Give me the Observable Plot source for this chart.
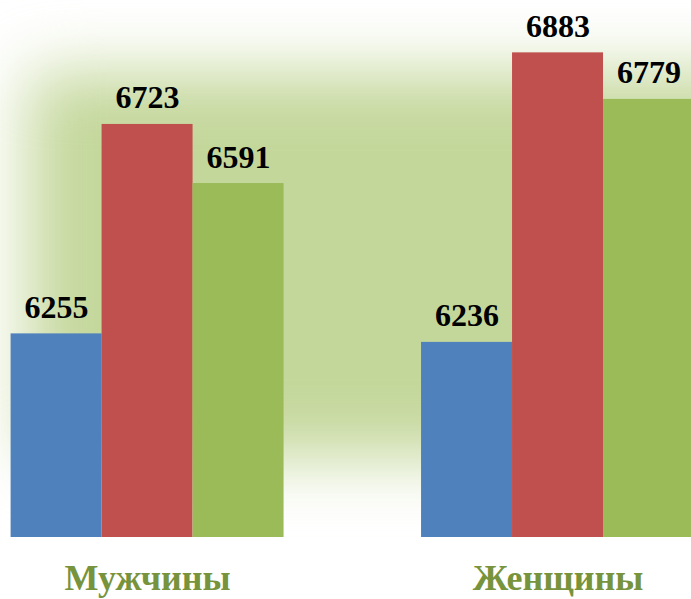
<!DOCTYPE html>
<html>
<head>
<meta charset="utf-8">
<script src="https://cdn.jsdelivr.net/npm/d3@7"></script>
<script src="https://cdn.jsdelivr.net/npm/@observablehq/plot@0.6"></script>
<style>
  html, body { margin: 0; padding: 0; background: #ffffff; overflow: hidden; width: 691px; height: 599px; }
  #wrap { position: relative; width: 691px; height: 599px; overflow: hidden; }
  #glow { position: absolute; left: 28px; top: 72px; width: 800px; height: 386px; background: #C4D79B; filter: blur(33px); }
  #chart { position: absolute; left: 0; top: 0; }
</style>
</head>
<body>
<div id="wrap"><div id="glow"></div><div id="chart"></div></div>
<script>
const categories = ["Мужчины", "Женщины"];
const seriesNames = ["Ряд 1", "Ряд 2", "Ряд 3"];
const series1 = [6255, 6236];
const series2 = [6723, 6883];
const series3 = [6591, 6779];
const seriesColors = ["#4F81BD", "#C0504D", "#9BBB59"];
const yDomain = [5800, 7000];

const allSeries = [series1, series2, series3];
const rows = [];
categories.forEach((c, i) => {
  allSeries.forEach((s, j) => {
    rows.push({category: c, series: seriesNames[j], value: s[i]});
  });
});

const plot = Plot.plot({
  width: 694,
  height: 599,
  marginLeft: 10.6,
  marginRight: 0,
  marginTop: 0,
  marginBottom: 62,
  style: {background: "transparent", overflow: "visible", maxWidth: "none"},
  fx: {domain: categories, paddingInner: 0.335, paddingOuter: 0, round: false, label: null},
  x: {domain: seriesNames, paddingInner: 0, paddingOuter: 0, round: false, axis: null},
  y: {domain: yDomain, axis: null},
  color: {domain: seriesNames, range: seriesColors},
  marks: [
    Plot.barY(rows, {fx: "category", x: "series", y1: () => yDomain[0], y2: "value", fill: "series", inset: 0}),
    Plot.text(rows, {
      fx: "category", x: "series", y: "value", text: d => String(d.value),
      dy: -16, lineAnchor: "bottom", fontSize: 32, fontWeight: "bold",
      fontFamily: "Liberation Serif", fill: "#000000"
    }),
    Plot.axisFx({
      anchor: "bottom", tickSize: 0, tickPadding: 27, fontSize: 36,
      fontWeight: "bold", fontFamily: "Liberation Serif", fill: "#77933C", label: null
    })
  ]
});
document.getElementById("chart").appendChild(plot);
</script>
</body>
</html>
